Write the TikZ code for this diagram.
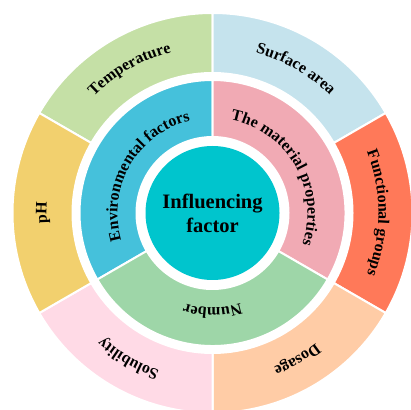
\documentclass[tikz,border=0pt]{standalone}
\usepackage{fontspec}
\setmainfont{Liberation Serif}
\usetikzlibrary{decorations.text}
\definecolor{hubteal}{RGB}{0,197,205}
\definecolor{envblue}{RGB}{69,193,219}
\definecolor{matpink}{RGB}{241,170,180}
\definecolor{numgreen}{RGB}{158,214,168}
\definecolor{tempgreen}{RGB}{197,224,166}
\definecolor{surfblue}{RGB}{197,227,237}
\definecolor{funcred}{RGB}{255,121,89}
\definecolor{dosepeach}{RGB}{255,204,166}
\definecolor{solpink}{RGB}{255,218,230}
\definecolor{phyellow}{RGB}{242,208,110}
\newcommand{\labfont}{\fontsize{16}{16}\selectfont\bfseries}
\tikzset{
  seg/.style={fill=#1, draw=white, line width=2pt},
  lab/.style={decorate, decoration={text along path, text align=center, text={|\labfont|#1}}}
}
\begin{document}
\begin{tikzpicture}[x=1pt,y=1pt]
\useasboundingbox (0,0) rectangle (411,409);
\clip (0,0) rectangle (411,409);
\begin{scope}[shift={(212.5,196)}]
%--- outer ring ---------------------------------
\draw[seg=tempgreen] (90:200) arc (90:150:200) -- (150:140) arc (150:90:140) -- cycle;
\draw[seg=surfblue]  (30:200) arc (30:90:200) -- (90:140) arc (90:30:140) -- cycle;
\draw[seg=funcred]   (-30:200) arc (-30:30:200) -- (30:140) arc (30:-30:140) -- cycle;
\draw[seg=dosepeach] (-90:200) arc (-90:-30:200) -- (-30:140) arc (-30:-90:140) -- cycle;
\draw[seg=solpink]   (210:200) arc (210:270:200) -- (270:140) arc (270:210:140) -- cycle;
\draw[seg=phyellow]  (150:200) arc (150:210:200) -- (210:140) arc (210:150:140) -- cycle;
%--- inner ring ---------------------------------
\draw[seg=envblue]  (90:133) arc (90:210:133) -- (210:76) arc (210:90:76) -- cycle;
\draw[seg=matpink]  (-30:133) arc (-30:90:133) -- (90:76) arc (90:-30:76) -- cycle;
\draw[seg=numgreen] (210:133) arc (210:330:133) -- (330:76) arc (330:210:76) -- cycle;
%--- hub ----------------------------------------
\node[circle, fill=hubteal, minimum size=134pt, inner sep=0pt, align=center,
      font=\fontsize{20.5}{24}\selectfont\bfseries] (hub) at (0,0) {Influencing\\factor};
%--- outer labels -------------------------------
\path[lab=Temperature] (150:166) arc (150:90:166);
\path[lab=Surface area] (90:166) arc (90:30:166);
\path[lab=Functional groups] (30:166) arc (30:-30:166);
\path[lab=Dosage] (-30:166) arc (-30:-90:166);
\path[lab=Solubility] (270:166) arc (270:210:166);
\path[lab=pH] (210:166) arc (210:150:166);
%--- inner labels -------------------------------
\path[lab=Environmental factors] (210:95) arc (210:90:95);
\path[lab=The material properties] (90:95) arc (90:-30:95);
\path[lab=Number] (330:95) arc (330:210:95);
\end{scope}
\end{tikzpicture}
\end{document}
